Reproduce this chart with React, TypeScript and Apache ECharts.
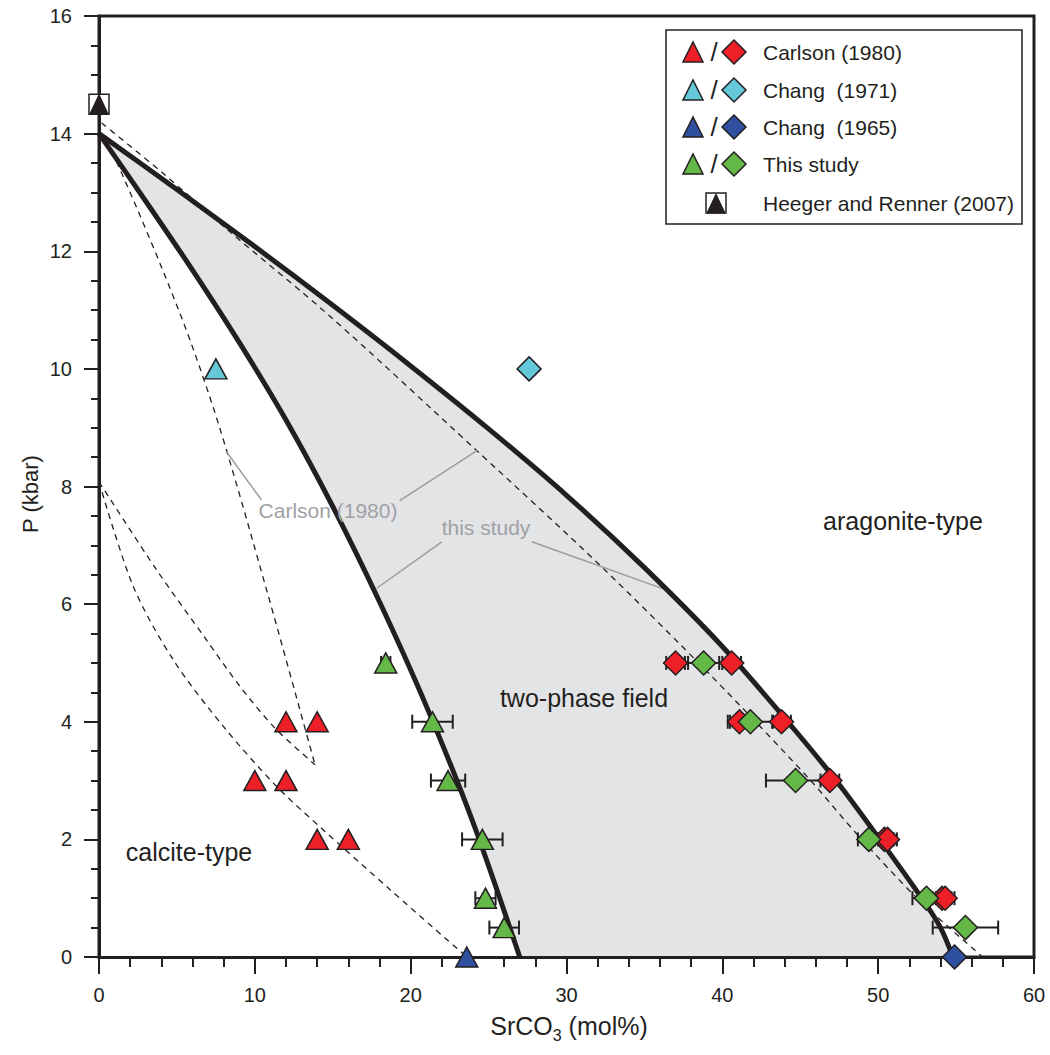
import React, { useEffect, useRef } from "react";
import * as echarts from "echarts";

const FONT = 'Arial, "Liberation Sans", Helvetica, sans-serif';
const INK = "#231f20";
const GRAY_TXT = "#a0a1a4";
const SHADE = "#e3e4e6";

const RED = "#ed2027";
const CYAN = "#64c8d9";
const BLUE = "#2f4f9f";
const GREEN = "#63b847";

// Phase boundaries (this study), [SrCO3 mol%, P kbar]
const calciteBoundary = [[0, 14], [3, 12.85], [6, 11.68], [9, 10.45], [12, 9.13], [15, 7.66], [18, 6.04], [21, 4.27], [24, 2.29], [27, 0]];
const aragoniteBoundary = [[0, 14], [5, 13.05], [10, 12.08], [15, 11.08], [20, 10.05], [25, 8.98], [30, 7.85], [35, 6.62], [40, 5.28], [44.2, 4.0], [47.3, 3.0], [50.1, 2.0], [52.8, 1.0], [54.0, 0.5], [54.8, 0]];

// Carlson (1980) dashed boundaries
const carlsonAragonite = [[0.17, 14.18], [4, 13.35], [8.4, 12.33], [14.8, 10.9], [24.2, 8.62], [32.15, 6.66], [39.4, 4.75], [45.5, 3.05], [48.6, 2.1], [52.5, 1.0], [56.7, 0]];
const carlsonCalciteHigh = [[0, 14], [1.13, 13.52], [5.2, 10.94], [7.66, 9.07], [10.8, 6.2], [13.86, 3.27]];
const carlsonCalciteMid = [[0, 8.08], [3.7, 6.58], [6.9, 5.39], [9.05, 4.6], [11.3, 3.89], [13.86, 3.27]];
const carlsonCalciteLow = [[0, 8.08], [2.2, 6.3], [4.77, 5.05], [7.98, 3.92], [11.4, 2.9], [14.4, 2.16], [18.7, 1.14], [23.6, 0]];

// Leader lines for annotations
const leaderCarlson1 = [[8.18, 8.59], [10.43, 7.77]];
const leaderCarlson2 = [[19.3, 7.76], [24.3, 8.62]];
const leaderStudy1 = [[22.0, 7.06], [17.82, 6.27]];
const leaderStudy2 = [[27.77, 7.06], [36.85, 6.2]];

// Data points: [x, P, xError]
const carlsonTri = [[12, 4], [14, 4], [10, 3], [12, 3], [14, 2], [16, 2]];
const carlsonDia = [[37.0, 5, 0.6], [40.6, 5, 0.6], [41.1, 4, 0.6], [43.8, 4, 0.6], [46.9, 3, 0.6], [50.4, 2, 0.6], [50.6, 2, 0.6], [54.1, 1, 0.6], [54.3, 1, 0.6]];
const chang1971Tri = [[7.5, 10]];
const chang1971Dia = [[27.6, 10]];
const chang1965Tri = [[23.6, 0]];
const chang1965Dia = [[54.9, 0]];
const studyTri = [[18.4, 5, 0.3], [21.4, 4, 1.3], [22.4, 3, 1.1], [24.6, 2, 1.3], [24.8, 1, 0.65], [26.0, 0.5, 0.95]];
const studyDia = [[38.8, 5, 1.0], [41.8, 4, 1.45], [44.7, 3, 1.9], [49.4, 2, 0.7], [53.1, 1, 0.9], [55.6, 0.5, 2.1]];
const heeger = [[0, 14.5]];

const legendNames = ["Carlson (1980)", "Chang\u00a0 (1971)", "Chang\u00a0 (1965)", "This study", "Heeger and Renner (2007)"];
const legendColors = [RED, CYAN, BLUE, GREEN];

function curve(data: number[][], width: number, dashed: boolean, z = 3) {
  return {
    type: "line",
    data,
    smooth: 0.3,
    symbol: "none",
    silent: true,
    z,
    lineStyle: { color: INK, width, type: dashed ? [6, 5] : "solid" },
  };
}

function leader(data: number[][]) {
  return {
    type: "line",
    data,
    symbol: "none",
    silent: true,
    z: 3,
    lineStyle: { color: "#9c9c9c", width: 1.5 },
  };
}

function area(data: number[][], color: string, z: number) {
  return {
    type: "line",
    data,
    smooth: 0.3,
    symbol: "none",
    silent: true,
    z,
    lineStyle: { width: 0, color },
    areaStyle: { color, opacity: 1 },
  };
}

function errorBars(data: number[][]) {
  return {
    type: "custom",
    data,
    z: 5,
    silent: true,
    encode: { x: 0, y: 1 },
    renderItem: (_p: any, api: any) => {
      const x = api.value(0);
      const y = api.value(1);
      const e = api.value(2);
      const l = api.coord([x - e, y]);
      const r = api.coord([x + e, y]);
      const h = 7;
      const st = { stroke: INK, lineWidth: 2 };
      return {
        type: "group",
        children: [
          { type: "line", shape: { x1: l[0], y1: l[1], x2: r[0], y2: r[1] }, style: st },
          { type: "line", shape: { x1: l[0], y1: l[1] - h, x2: l[0], y2: l[1] + h }, style: st },
          { type: "line", shape: { x1: r[0], y1: r[1] - h, x2: r[0], y2: r[1] + h }, style: st },
        ],
      };
    },
  };
}

function markers(data: number[][], symbol: string, color: string, size: any, z = 6) {
  return {
    type: "scatter",
    data: data.map((d) => [d[0], d[1]]),
    symbol,
    symbolSize: size,
    z,
    silent: true,
    itemStyle: { color, borderColor: INK, borderWidth: 1.5, opacity: 1 },
  };
}

function legendGraphics() {
  const rows = [52, 90, 127, 164, 203];
  const els: any[] = [
    { type: "rect", shape: { x: 666, y: 30, width: 356, height: 194 }, style: { fill: "#fff", stroke: INK, lineWidth: 1.5 }, z: 50 },
  ];
  legendColors.forEach((c, i) => {
    const y = rows[i];
    els.push({ type: "polygon", shape: { points: [[683, y + 10], [703, y + 10], [693, y - 10]] }, style: { fill: c, stroke: INK, lineWidth: 1.5 }, z: 51 });
    els.push({ type: "text", x: 714, y, style: { text: "/", fontSize: 26, fontFamily: FONT, fill: INK, align: "center", verticalAlign: "middle" }, z: 51 });
    els.push({ type: "polygon", shape: { points: [[734, y - 12], [746, y], [734, y + 12], [722, y]] }, style: { fill: c, stroke: INK, lineWidth: 1.5 }, z: 51 });
  });
  const hy = rows[4];
  els.push({ type: "rect", shape: { x: 706, y: hy - 10, width: 20, height: 20 }, style: { fill: "#fff", stroke: INK, lineWidth: 1.5 }, z: 51 });
  els.push({ type: "polygon", shape: { points: [[707, hy + 10], [725, hy + 10], [716, hy - 9]] }, style: { fill: INK, stroke: INK, lineWidth: 1 }, z: 52 });
  legendNames.forEach((n, i) => {
    els.push({ type: "text", x: 763, y: rows[i], style: { text: n, fontSize: 21, fontFamily: FONT, fill: INK, align: "left", verticalAlign: "middle" }, z: 51 });
  });
  return els;
}

function label(text: string, x: number, y: number, size: number, color: string) {
  return { type: "text", x, y, z: 40, silent: true, style: { text, fontSize: size, fontFamily: FONT, fill: color, align: "center", verticalAlign: "middle" } };
}

export default function App() {
  const ref = useRef<HTMLDivElement>(null);
  useEffect(() => {
    if (!ref.current) return;
    const chart = echarts.init(ref.current, undefined, { renderer: "svg" });
    const axisCommon = {
      type: "value",
      z: 4,
      axisLine: { show: true, onZero: false, lineStyle: { color: INK, width: 3 } },
      splitLine: { show: false },
      minorSplitLine: { show: false },
    };
    const option: any = {
      animation: false,
      grid: { left: 99, right: 16, top: 16, bottom: 98, show: true, borderColor: INK, borderWidth: 3, backgroundColor: "transparent" },
      xAxis: {
        ...axisCommon,
        min: 0,
        max: 60,
        interval: 10,
        axisTick: { show: true, length: 17, lineStyle: { color: INK, width: 2 } },
        minorTick: { show: true, splitNumber: 5, length: 10, lineStyle: { color: INK, width: 2 } },
        axisLabel: { fontSize: 20, color: INK, margin: 28, fontFamily: FONT },
      },
      yAxis: {
        ...axisCommon,
        min: 0,
        max: 16,
        interval: 2,
        axisTick: { show: true, length: 15, lineStyle: { color: INK, width: 2 } },
        minorTick: { show: true, splitNumber: 4, length: 8, lineStyle: { color: INK, width: 2 } },
        axisLabel: { fontSize: 20, color: INK, margin: 27, fontFamily: FONT },
      },
      series: [
        area(aragoniteBoundary, SHADE, 1),
        area(calciteBoundary, "#ffffff", 1),
        curve(carlsonAragonite, 1.3, true),
        curve(carlsonCalciteHigh, 1.3, true),
        curve(carlsonCalciteMid, 1.3, true),
        curve(carlsonCalciteLow, 1.3, true),
        leader(leaderCarlson1),
        leader(leaderCarlson2),
        leader(leaderStudy1),
        leader(leaderStudy2),
        curve(calciteBoundary, 5, false),
        curve(aragoniteBoundary, 5, false),
        errorBars(carlsonDia),
        errorBars(studyTri),
        errorBars(studyDia),
        markers(carlsonTri, "triangle", RED, [22, 20]),
        markers(carlsonDia, "diamond", RED, [24, 24]),
        markers(chang1971Tri, "triangle", CYAN, [22, 20]),
        markers(chang1971Dia, "diamond", CYAN, [24, 24]),
        markers(chang1965Tri, "triangle", BLUE, [22, 20]),
        markers(chang1965Dia, "diamond", BLUE, [24, 24]),
        markers(studyTri, "triangle", GREEN, [22, 20]),
        markers(studyDia, "diamond", GREEN, [24, 24]),
        markers(heeger, "rect", "#ffffff", [20, 20], 7),
        markers(heeger, "triangle", INK, [17, 18], 8),
      ],
      graphic: [
        label("aragonite-type", 903, 521, 25, INK),
        label("two-phase field", 584, 698, 25, INK),
        label("calcite-type", 189, 852, 25, INK),
        label("Carlson (1980)", 328, 510, 21, GRAY_TXT),
        label("this study", 486, 527, 21, GRAY_TXT),
        {
          type: "text",
          x: 30,
          y: 494,
          rotation: Math.PI / 2,
          z: 40,
          style: { text: "P (kbar)", fontSize: 22, fontFamily: FONT, fill: INK, align: "center", verticalAlign: "middle" },
        },
        {
          type: "text",
          x: 569,
          y: 1026,
          z: 40,
          style: {
            text: "{a|SrCO}{s|3}{a| (mol%)}",
            fontFamily: FONT,
            fill: INK,
            align: "center",
            verticalAlign: "middle",
            rich: {
              a: { fontSize: 25, fontFamily: FONT, fill: INK, lineHeight: 34 },
              s: { fontSize: 16, fontFamily: FONT, fill: INK, verticalAlign: "bottom" },
            },
          },
        },
        ...legendGraphics(),
      ],
    };
    chart.setOption(option);
    return () => chart.dispose();
  }, []);
  return <div ref={ref} style={{ width: 1050, height: 1055, position: "absolute", left: 0, top: 0 }} />;
}
